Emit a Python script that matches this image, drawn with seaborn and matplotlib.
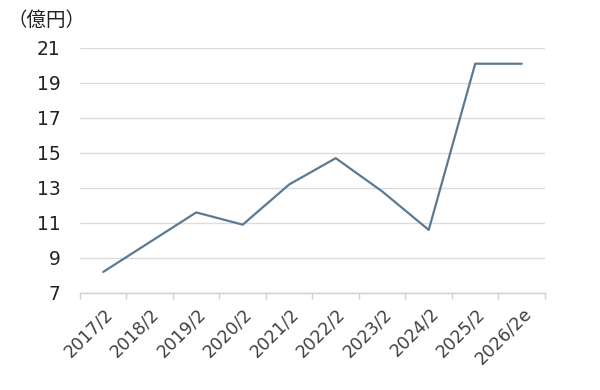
import numpy as np
import pandas as pd
import seaborn as sns
import matplotlib.pyplot as plt
import matplotlib.transforms as mtransforms

# data
periods = ['2017/2', '2018/2', '2019/2', '2020/2', '2021/2',
           '2022/2', '2023/2', '2024/2', '2025/2', '2026/2e']
values = [8.2, 9.9, 11.6, 10.9, 13.2, 14.7, 12.8, 10.6, 20.1, 20.1]
y_ticks = [7, 9, 11, 13, 15, 17, 19, 21]
unit_label = '（億円）'

df = pd.DataFrame({'period': periods, 'value': values})

sns.set_theme(style='white')
plt.rcParams['font.family'] = ['DejaVu Sans', 'Noto Sans CJK JP']

fig = plt.figure(figsize=(6, 3.9), dpi=100)
ax = fig.add_axes([0.1333, 0.249, 0.775, 0.628])

sns.lineplot(data=df, x='period', y='value', ax=ax, color='#5b7a92',
             linewidth=1.6, sort=False)

ax.set_xlim(-0.5, len(periods) - 0.5)
ax.set_ylim(7, 21)
ax.set_yticks(y_ticks)
ax.set_yticklabels([str(v) for v in y_ticks])
ax.grid(axis='y', color='#dcdcdc', linewidth=1)
ax.set_axisbelow(True)

for s in ['top', 'right', 'left']:
    ax.spines[s].set_visible(False)
ax.spines['bottom'].set_color('#d0d0d0')
ax.spines['bottom'].set_linewidth(1)

# category boundaries get the little tick marks
ax.set_xticks(np.arange(len(periods)))
ax.set_xticks(np.arange(-0.5, len(periods)), minor=True)
ax.tick_params(axis='x', which='major', length=0, pad=13)
ax.tick_params(axis='x', which='minor', length=4, color='#d0d0d0', width=1,
               direction='out', bottom=True)
ax.tick_params(axis='y', length=0, pad=14, labelsize=13.5, labelcolor='#222222')

offset = mtransforms.ScaledTranslation(5 / 72, 0, fig.dpi_scale_trans)
ax.set_xticklabels(periods, rotation=45, ha='right', va='center',
                   rotation_mode='anchor', fontsize=12.5, color='#404040')
for lbl in ax.get_xticklabels():
    lbl.set_transform(lbl.get_transform() + offset)

ax.set_xlabel('')
ax.set_ylabel('')

fig.text(0.012, 0.948, unit_label, fontsize=14, color='#222222',
         family=['Noto Sans CJK JP', 'DejaVu Sans'], va='center', ha='left')

fig.savefig('out.png', dpi=100, facecolor='white')
